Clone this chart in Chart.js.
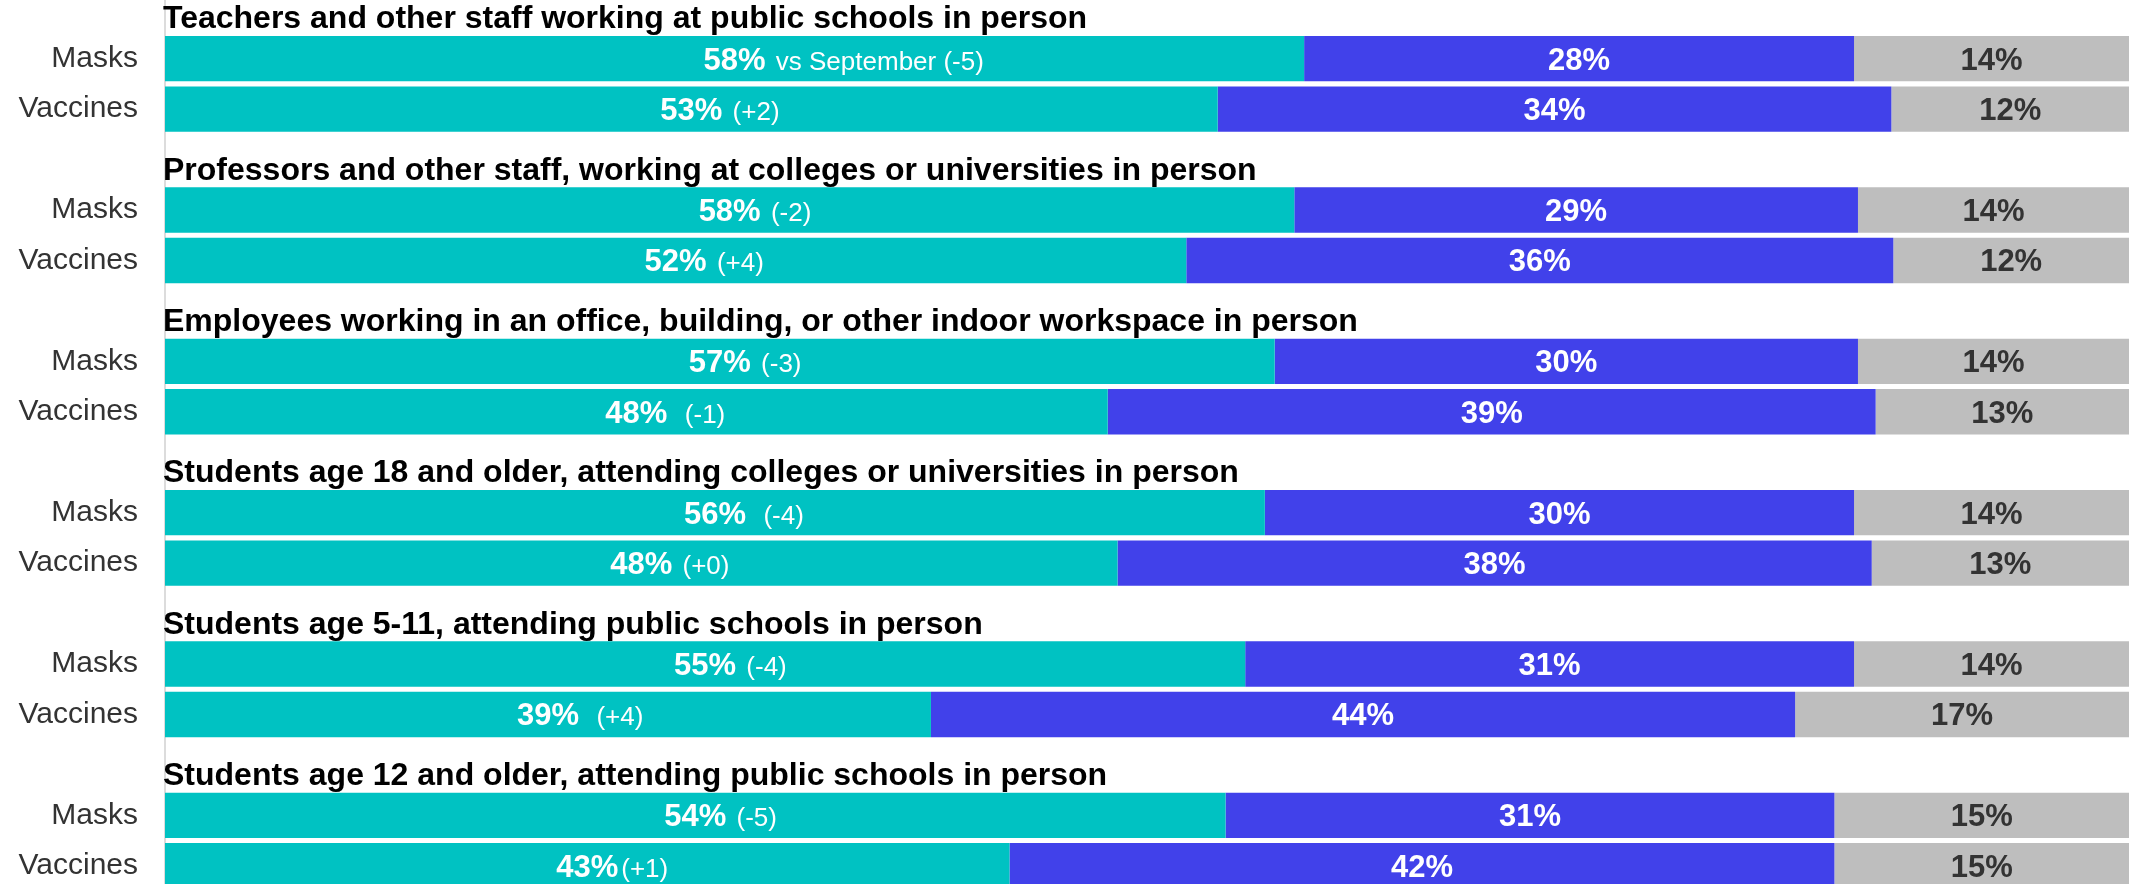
<!DOCTYPE html>
<html>
<head>
<meta charset="utf-8">
<script src="https://cdn.jsdelivr.net/npm/chart.js@4"></script>
<style>
    html, body { margin: 0; padding: 0; background: #ffffff; overflow: hidden; }
    #wrap { position: absolute; left: 0; top: -17px; width: 2129px; height: 908px; }
</style>
</head>
<body>
<div id="wrap"><canvas id="chart-school-rules"></canvas></div>
<script>
const groupTitles = [
    'Teachers and other staff working at public schools in person',
    'Professors and other staff, working at colleges or universities in person',
    'Employees working in an office, building, or other indoor workspace in person',
    'Students age 18 and older, attending colleges or universities in person',
    'Students age 5-11, attending public schools in person',
    'Students age 12 and older, attending public schools in person'
];
const rowNames = ['Masks', 'Vaccines'];

// bar lengths (percent of the row)
const supportValues = [58.0, 53.6, 57.5, 52.0, 56.5, 48.0, 56.0, 48.5, 55.0, 39.0, 54.0, 43.0];
const opposeValues = [28.0, 34.3, 28.7, 36.0, 29.7, 39.1, 30.0, 38.4, 31.0, 44.0, 31.0, 42.0];
const unsureValues = [14.0, 12.1, 13.8, 12.0, 13.8, 12.9, 14.0, 13.1, 14.0, 17.0, 15.0, 15.0];

// printed labels
const supportLabels = ['58%', '53%', '58%', '52%', '57%', '48%', '56%', '48%', '55%', '39%', '54%', '43%'];
const changeLabels = [' vs September (-5)', ' (+2)', ' (-2)', ' (+4)', ' (-3)', '  (-1)',
    '  (-4)', ' (+0)', ' (-4)', '  (+4)', ' (-5)', '(+1)'];
const opposeLabels = ['28%', '34%', '29%', '36%', '30%', '39%', '30%', '38%', '31%', '44%', '31%', '42%'];
const unsureLabels = ['14%', '12%', '14%', '12%', '14%', '13%', '14%', '13%', '14%', '17%', '15%', '15%'];

const fontFamily = '"Liberation Sans", Arial, sans-serif';

/*
 * Every group gets an empty slot for its title, then one slot per row
 */
let yLabels = [];
let supportData = [];
let opposeData = [];
let unsureData = [];
let rowIndex = [];
for(let g = 0; g < groupTitles.length; g++){
    yLabels.push('');
    supportData.push(null);
    opposeData.push(null);
    unsureData.push(null);
    rowIndex.push(-1);
    for(let r = 0; r < rowNames.length; r++){
        const i = g * rowNames.length + r;
        yLabels.push(rowNames[r]);
        supportData.push(supportValues[i]);
        opposeData.push(opposeValues[i]);
        unsureData.push(unsureValues[i]);
        rowIndex.push(i);
    }
}

const barLabelPlugin = {
    id: 'barLabels',
    afterDatasetsDraw(chart){
        const ctx = chart.ctx;
        const textSets = [supportLabels, opposeLabels, unsureLabels];
        const colors = ['#ffffff', '#ffffff', '#333333'];
        ctx.save();
        chart.data.datasets.forEach((ds, d) => {
            const meta = chart.getDatasetMeta(d);
            meta.data.forEach((bar, k) => {
                const i = rowIndex[k];
                if(i < 0) return;
                const cx = (bar.x + bar.base) / 2;
                const y = bar.y + 11;
                ctx.font = `bold 31px ${fontFamily}`;
                ctx.fillStyle = colors[d];
                ctx.textAlign = 'center';
                ctx.textBaseline = 'alphabetic';
                const text = textSets[d][i];
                ctx.fillText(text, cx, y);
                if(d === 0){
                    const w = ctx.measureText(text).width;
                    ctx.font = `26px ${fontFamily}`;
                    ctx.textAlign = 'left';
                    ctx.fillText(changeLabels[i], cx + w / 2 + 3, y);
                }
            });
        });

        // group titles sit just above their bars
        const yScale = chart.scales.y;
        ctx.font = `bold 32px ${fontFamily}`;
        ctx.fillStyle = '#000000';
        ctx.textAlign = 'left';
        ctx.textBaseline = 'alphabetic';
        groupTitles.forEach((title, g) => {
            const slot = g * (rowNames.length + 1);
            const y = yScale.getPixelForValue(slot) + 20;
            ctx.fillText(title, chart.chartArea.left - 2, y);
        });
        ctx.restore();
    }
};

new Chart(document.getElementById('chart-school-rules'), {
    type: 'bar',
    data: {
        labels: yLabels,
        datasets: [{
            label: 'Support',
            data: supportData,
            backgroundColor: '#00c2c2'
        }, {
            label: 'Oppose',
            data: opposeData,
            backgroundColor: '#4141ea'
        }, {
            label: 'Not sure',
            data: unsureData,
            backgroundColor: '#bebebe'
        }]
    },
    options: {
        indexAxis: 'y',
        responsive: true,
        maintainAspectRatio: false,
        animation: false,
        layout: { padding: 0, autoPadding: false },
        datasets: {
            bar: { barPercentage: 0.9, categoryPercentage: 1.0 }
        },
        plugins: {
            legend: { display: false },
            tooltip: { enabled: false }
        },
        scales: {
            x: {
                stacked: true,
                display: false,
                min: 0,
                max: 100
            },
            y: {
                stacked: true,
                grid: { display: false, drawTicks: false },
                border: { display: true, color: '#dcdcdc', width: 2 },
                ticks: {
                    autoSkip: false,
                    padding: 27,
                    color: '#333333',
                    font: { family: fontFamily, size: 30 }
                },
                afterFit(scale){
                    // fixed label column, no extra room above or below the rows
                    scale.width = 165;
                    scale.paddingTop = 0;
                    scale.paddingBottom = 0;
                }
            }
        }
    },
    plugins: [barLabelPlugin]
});
</script>
</body>
</html>
